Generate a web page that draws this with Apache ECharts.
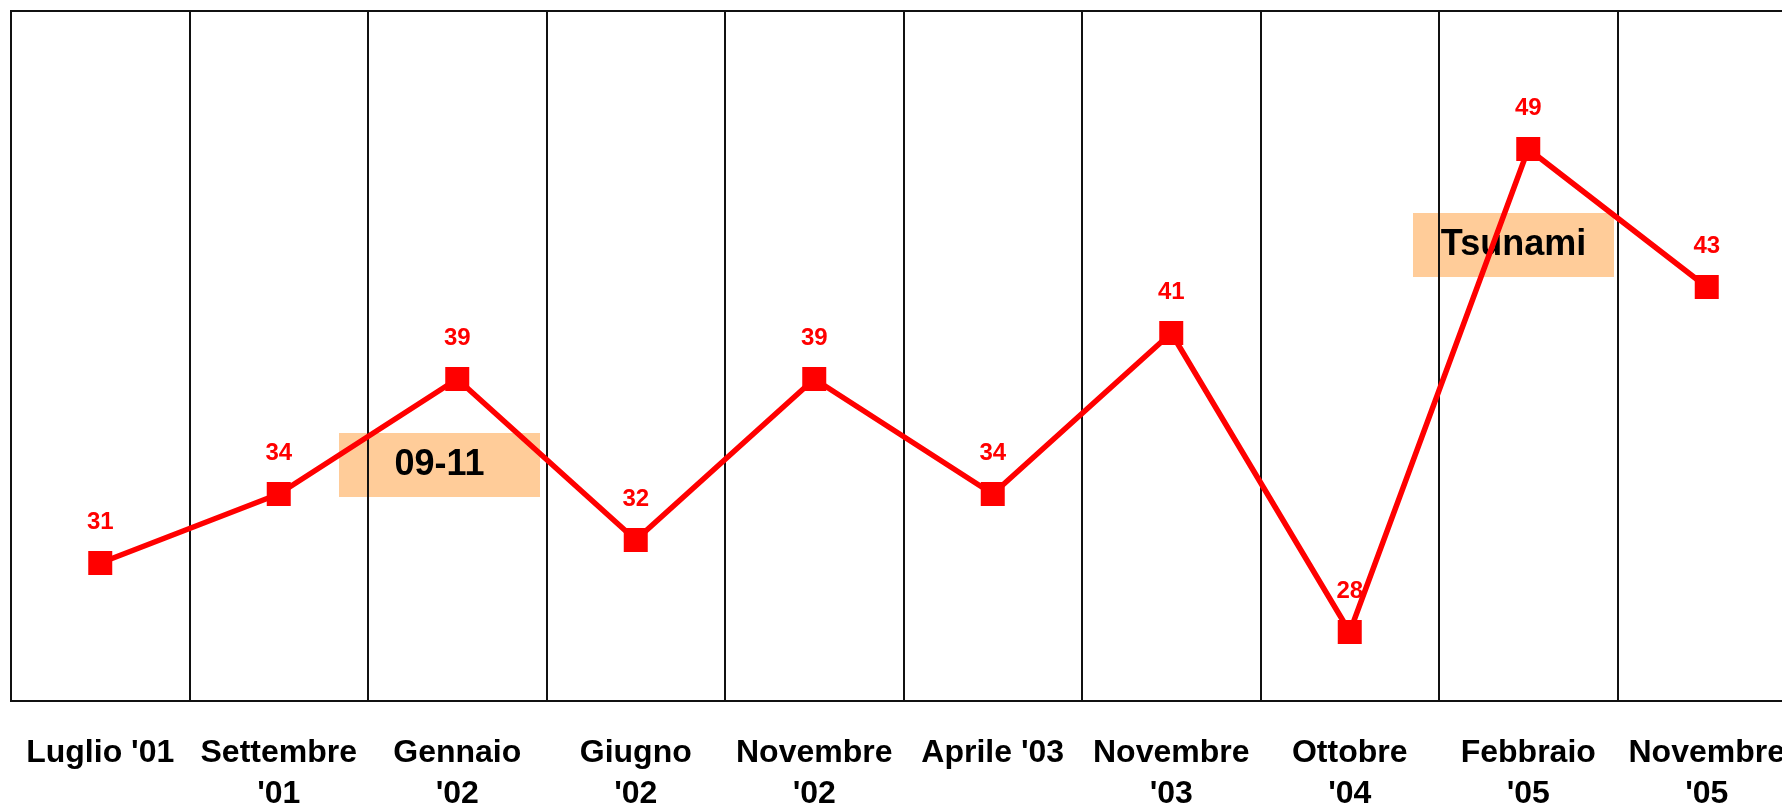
<!DOCTYPE html>
<html>
<head>
<meta charset="utf-8">
<style>
  html, body { margin: 0; padding: 0; background: #fff; }
  #chart { width: 1782px; height: 808px; }
</style>
<script src="https://cdn.jsdelivr.net/npm/echarts@6/dist/echarts.min.js"></script>
</head>
<body>
<div id="chart"></div>
<script>
const categories = ["Luglio '01", "Settembre\n'01", "Gennaio\n'02", "Giugno\n'02", "Novembre\n'02",
                    "Aprile '03", "Novembre\n'03", "Ottobre\n'04", "Febbraio\n'05", "Novembre\n'05"];
const values = [31, 34, 39, 32, 39, 34, 41, 28, 49, 43];
const annotations = ["09-11", "Tsunami"];

const chart = echarts.init(document.getElementById('chart'), null, { renderer: 'canvas' });
const FONT = '"Liberation Sans", Arial, Helvetica, sans-serif';

function box(txt, left, top) {
  return {
    type: 'group', left: left, top: top, z: 100,
    children: [
      { type: 'rect', shape: { x: 0, y: 0, width: 201, height: 64 }, style: { fill: '#FFCC99' } },
      { type: 'text', x: 100.5, y: 32, style: { text: txt, fill: '#000', font: 'bold 36px ' + FONT, align: 'center', verticalAlign: 'middle' } }
    ]
  };
}

chart.setOption({
  animation: false,
  backgroundColor: '#fff',
  grid: { left: 11, top: 11, width: 1785, height: 690, outerBoundsMode: 'none', containLabel: false,
          show: true, borderColor: '#111', borderWidth: 2, backgroundColor: 'transparent' },
  xAxis: {
    type: 'category',
    data: categories,
    boundaryGap: true,
    axisLine: { show: true, lineStyle: { color: '#111', width: 2 } },
    axisTick: { show: false },
    splitLine: { show: true, interval: 0, lineStyle: { color: '#111', width: 2 } },
    axisLabel: { interval: 0, margin: 32, color: '#000', fontWeight: 'bold', fontSize: 32, fontFamily: FONT, lineHeight: 41, hideOverlap: false }
  },
  yAxis: {
    type: 'value', min: 25, max: 55,
    axisLine: { show: false }, axisTick: { show: false }, axisLabel: { show: false }, splitLine: { show: false }
  },
  series: [{
    type: 'line',
    data: values,
    symbol: 'rect',
    symbolSize: 24,
    lineStyle: { color: '#FF0000', width: 5.5 },
    itemStyle: { color: '#FF0000' },
    label: { show: true, position: 'top', distance: 17, color: '#FF0000', fontWeight: 'bold', fontSize: 24, fontFamily: FONT }
  }],
  graphic: [ box(annotations[0], 339, 433), box(annotations[1], 1413, 213) ]
});
</script>
</body>
</html>
